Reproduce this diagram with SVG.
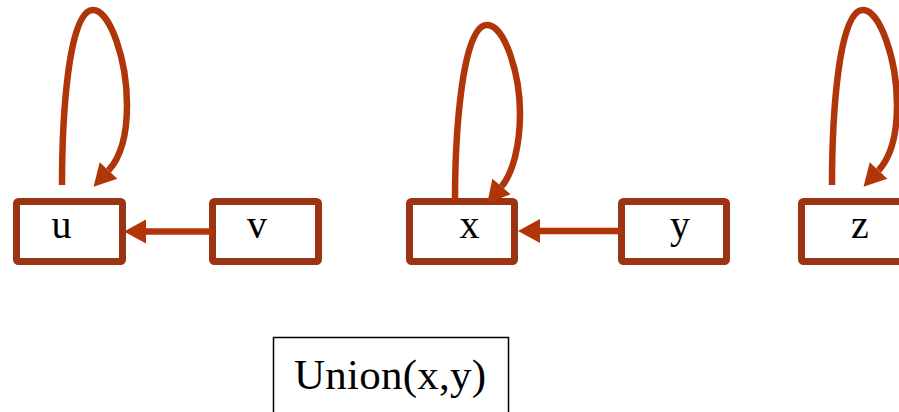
<svg xmlns="http://www.w3.org/2000/svg" width="899" height="412" viewBox="0 0 899 412">
  <style>
    .node rect { fill: #ffffff; stroke: #9a3412; stroke-width: 7; }
    .node text { font-family: "Liberation Serif", "Times New Roman", serif; font-size: 40px; fill: #000000; text-anchor: middle; }
    .edge { fill: none; stroke: #b0360a; stroke-width: 6.5; marker-end: url(#ah); }
    .op rect { fill: #ffffff; stroke: #000000; stroke-width: 1.5; }
    .op text { font-family: "Liberation Serif", "Times New Roman", serif; font-size: 43px; fill: #000000; text-anchor: middle; }
  </style>
  <defs>
    <marker id="ah" markerUnits="userSpaceOnUse" markerWidth="24" markerHeight="26" refX="0" refY="12" orient="auto" viewBox="0 0 24 24" overflow="visible">
      <path d="M0,0 L22,12 L0,24 Z" fill="#b0360a"/>
    </marker>
  </defs>

  <g id="node-u" class="node">
    <rect x="16.5" y="201.5" width="106" height="60" rx="2"/>
    <text x="61.5" y="238">u</text>
  </g>
  <g id="node-v" class="node">
    <rect x="212.5" y="201.5" width="106" height="60" rx="2"/>
    <text x="257" y="238">v</text>
  </g>
  <g id="node-x" class="node">
    <rect x="409.5" y="201.5" width="105" height="60" rx="2"/>
    <text x="469.5" y="238">x</text>
  </g>
  <g id="node-y" class="node">
    <rect x="621.5" y="201.5" width="105" height="60" rx="2"/>
    <text x="680" y="238">y</text>
  </g>
  <g id="node-z" class="node">
    <rect x="801.5" y="201.5" width="106" height="60" rx="2"/>
    <text x="860" y="238">z</text>
  </g>

  <g id="connectors">
    <path class="edge" d="M62,185 C62,120 68,10 93,10 C110,10 127,60 127,105 C127,135 121,157 108.5,170.5"/>
    <path class="edge" d="M213,231.5 L146,231.5"/>
    <path class="edge" d="M455,200 C455,135 462,25 487,25 C505,25 520,75 520,113 C520,145 513,173 501.5,186.5"/>
    <path class="edge" d="M622,231 L540,231"/>
    <path class="edge" d="M832,185 C832,120 838,10 863,10 C880,10 897,60 897,105 C897,135 891,157 878.5,170.5"/>
  </g>

  <g id="op-union" class="op">
    <rect x="273.5" y="337.5" width="235" height="90"/>
    <text x="390" y="389" textLength="192" lengthAdjust="spacing">Union(x,y)</text>
  </g>
</svg>
